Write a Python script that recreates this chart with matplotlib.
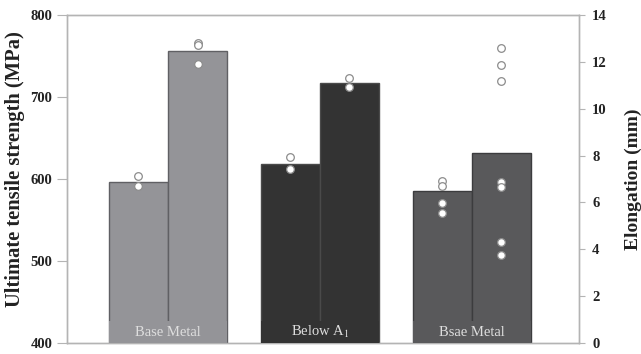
import numpy as np
import matplotlib
matplotlib.use("Agg")
import matplotlib.pyplot as plt

plt.rcParams["font.family"] = ["Liberation Serif", "DejaVu Serif"]
plt.rcParams["mathtext.fontset"] = "stix"

# groups and their bar values
groups = ["Base Metal", "Below A$_1$", "Bsae Metal"]
uts_mean = [596, 618, 585]            # MPa, left axis
elong_mean = [12.46, 11.10, 8.11]     # mm, right axis

# individual specimens
uts_points = [[604, 592], [627, 612], [598, 591, 571, 559]]
elong_points = [[12.8, 12.7, 11.9], [11.31, 10.93],
                [12.59, 11.86, 11.18, 6.87, 6.66, 4.31, 3.76]]

bar_colors = ["#949498", "#333333", "#59595b"]
edge_colors = ["#606064", "#4a4a4a", "#3c3c3e"]
spine_gray = "#b4b4b4"

x = np.arange(len(groups))
w = 0.39

fig = plt.figure(figsize=(6.41, 3.54), dpi=100)
ax1 = fig.add_axes([0.1045, 0.0311, 0.7985, 0.9265])
ax2 = ax1.twinx()

ax1.bar(x - w / 2, uts_mean, width=w, color=bar_colors,
        edgecolor=edge_colors, linewidth=1.0, zorder=2)
ax2.bar(x + w / 2, elong_mean, width=w, color=bar_colors,
        edgecolor=edge_colors, linewidth=1.0, zorder=2)

for i in range(len(groups)):
    ax1.plot([x[i] - w / 2] * len(uts_points[i]), uts_points[i], "o", ms=5.5,
             mfc="white", mec="#8c8c8c", mew=0.9, zorder=3)
    ax2.plot([x[i] + w / 2] * len(elong_points[i]), elong_points[i], "o", ms=5.5,
             mfc="white", mec="#8c8c8c", mew=0.9, zorder=3)

# label strip at the foot of each group
ax2.bar(x, 0.95, width=2 * w, color=bar_colors, linewidth=0, zorder=4)
for i, name in enumerate(groups):
    ax2.text(x[i], 0.45, name, ha="center", va="center", color="#dedede",
             fontsize=10.5, zorder=5)

ax1.set_xlim(-0.664, 2.704)
ax1.set_ylim(400, 800)
ax2.set_ylim(0, 14)
ax1.set_yticks(np.arange(400, 801, 100))
ax2.set_yticks(np.arange(0, 15, 2))
ax1.set_xticks([])

for ax in (ax1, ax2):
    for s in ax.spines.values():
        s.set_color(spine_gray)
        s.set_linewidth(1.0)
    for lbl in ax.get_yticklabels():
        lbl.set_fontweight("bold")
        lbl.set_color("#222222")
ax1.tick_params(axis="y", length=7, width=0.8, color=spine_gray,
                labelsize=10.5, pad=3.5)
ax2.tick_params(axis="y", length=4.5, width=0.8, color=spine_gray,
                labelsize=10.5, pad=5)

ax1.set_ylabel("Ultimate tensile strength (MPa)", fontsize=14.8,
               fontweight="bold", color="#222222")
ax2.set_ylabel("Elongation (mm)", fontsize=14, fontweight="bold",
               color="#222222")
ax1.yaxis.set_label_coords(-0.082, 0.53)
ax2.yaxis.set_label_coords(1.0898, 0.5)

fig.savefig("out.png", dpi=100)
